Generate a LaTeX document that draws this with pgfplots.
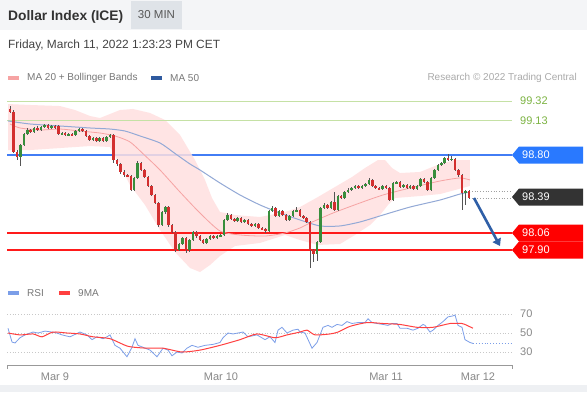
\documentclass[border=0pt]{standalone}
\usepackage{fontspec}
\setmainfont{Liberation Sans}
\usepackage{pgfplots}
\usepackage{pgfplotstable}
\pgfplotsset{compat=1.18}
\usetikzlibrary{arrows.meta}
\definecolor{hdrgray}{HTML}{F4F5F7}
\definecolor{minbox}{HTML}{DFE3E8}
\definecolor{titlecol}{HTML}{333333}
\definecolor{datecol}{HTML}{444444}
\definecolor{legtext}{HTML}{777777}
\definecolor{rescol}{HTML}{AAAAAA}
\definecolor{bandfill}{HTML}{FFE0E0}
\definecolor{ma20col}{HTML}{F6A3A3}
\definecolor{ma50col}{HTML}{93A9D6}
\definecolor{ma50leg}{HTML}{2F5A9F}
\definecolor{cred}{HTML}{D32F2F}
\definecolor{cgreen}{HTML}{388E3C}
\definecolor{wick}{HTML}{555555}
\definecolor{greenline}{HTML}{C5E1A5}
\definecolor{greenlabel}{HTML}{7CB342}
\definecolor{lvlblue}{RGB}{66,125,245}
\definecolor{bluebox}{HTML}{2979FF}
\definecolor{redline}{HTML}{FF1A1A}
\definecolor{redbox}{HTML}{FF0000}
\definecolor{darkbox}{HTML}{333333}
\definecolor{arrowcol}{HTML}{2F5FA7}
\definecolor{rsiblue}{HTML}{7B9EE8}
\definecolor{rsired}{HTML}{FF4040}
\definecolor{gridgray}{HTML}{C8C8C8}
\definecolor{axisgray}{HTML}{999999}
\definecolor{ticklab}{HTML}{888888}
\definecolor{botgray}{HTML}{EEF0F3}

\pgfplotstableread{
i o h l c
0 99.244 99.272 99.205 99.215
1 99.215 99.230 98.820 98.834
2 98.834 98.850 98.758 98.787
3 98.787 98.910 98.706 98.901
4 98.901 99.015 98.890 99.006
5 99.006 99.060 98.995 99.044
6 99.044 99.055 99.012 99.025
7 99.025 99.075 99.015 99.063
8 99.063 99.078 99.030 99.044
9 99.044 99.085 99.035 99.072
10 99.072 99.105 99.060 99.091
11 99.091 99.100 99.050 99.063
12 99.063 99.095 99.052 99.082
13 99.082 99.092 99.050 99.063
14 99.082 99.095 99.000 99.006
15 99.006 99.025 98.995 99.015
16 99.015 99.025 98.985 98.996
17 98.996 99.015 98.985 99.006
18 99.006 99.015 98.985 98.996
19 98.996 99.045 98.985 99.034
20 99.034 99.065 99.025 99.053
21 99.053 99.062 99.025 99.034
22 99.034 99.045 98.975 98.987
23 98.987 98.995 98.940 98.949
24 98.949 98.978 98.938 98.968
25 98.968 98.977 98.928 98.939
26 98.939 98.978 98.930 98.968
27 98.968 98.975 98.930 98.939
28 98.939 98.985 98.930 98.977
29 98.977 99.010 98.968 98.996
30 98.996 99.005 98.730 98.758
31 98.758 98.770 98.705 98.720
32 98.720 98.730 98.630 98.644
33 98.644 98.660 98.600 98.615
34 98.615 98.630 98.595 98.606
35 98.606 98.615 98.460 98.472
36 98.472 98.600 98.460 98.587
37 98.587 98.745 98.575 98.730
38 98.730 98.740 98.650 98.663
39 98.663 98.675 98.585 98.596
40 98.596 98.605 98.500 98.511
41 98.511 98.522 98.412 98.425
42 98.425 98.437 98.335 98.349
43 98.349 98.360 98.125 98.139
44 98.139 98.275 98.125 98.263
45 98.263 98.325 98.250 98.310
46 98.310 98.320 98.125 98.139
47 98.139 98.150 98.060 98.072
48 98.072 98.085 97.885 97.901
49 97.901 97.972 97.890 97.958
50 97.958 98.030 97.945 98.015
51 98.015 98.025 97.870 97.901
52 97.901 98.010 97.885 97.996
53 97.996 98.085 97.985 98.072
54 98.072 98.085 98.020 98.034
55 98.034 98.045 97.985 97.996
56 97.996 98.005 97.955 97.968
57 97.968 98.018 97.958 98.006
58 98.006 98.045 97.995 98.034
59 98.034 98.045 98.005 98.015
60 98.015 98.045 98.005 98.034
61 98.034 98.055 98.025 98.044
62 98.044 98.200 98.035 98.187
63 98.187 98.250 98.178 98.234
64 98.234 98.245 98.185 98.196
65 98.196 98.205 98.165 98.177
66 98.177 98.218 98.168 98.206
67 98.206 98.215 98.158 98.168
68 98.168 98.198 98.158 98.187
69 98.187 98.195 98.140 98.149
70 98.149 98.158 98.120 98.130
71 98.130 98.160 98.120 98.149
72 98.149 98.158 98.100 98.110
73 98.110 98.120 98.090 98.101
74 98.101 98.110 98.060 98.082
75 98.082 98.285 98.070 98.272
76 98.272 98.320 98.262 98.301
77 98.301 98.310 98.212 98.225
78 98.225 98.285 98.215 98.272
79 98.272 98.280 98.225 98.234
80 98.234 98.245 98.175 98.187
81 98.187 98.235 98.178 98.225
82 98.225 98.285 98.215 98.272
83 98.272 98.310 98.262 98.282
84 98.282 98.292 98.215 98.225
85 98.225 98.235 98.195 98.206
86 98.206 98.215 98.158 98.168
87 98.168 98.178 97.730 97.901
88 97.901 97.915 97.787 97.863
89 97.863 97.990 97.800 97.977
90 97.977 98.315 97.965 98.301
91 98.301 98.345 98.290 98.330
92 98.330 98.340 98.290 98.301
93 98.301 98.372 98.290 98.358
94 98.358 98.450 98.270 98.282
95 98.282 98.430 98.270 98.415
96 98.415 98.425 98.385 98.396
97 98.396 98.465 98.385 98.453
98 98.453 98.490 98.440 98.472
99 98.472 98.503 98.460 98.491
100 98.491 98.520 98.480 98.511
101 98.511 98.520 98.480 98.491
102 98.491 98.522 98.480 98.511
103 98.511 98.542 98.500 98.530
104 98.530 98.585 98.520 98.568
105 98.568 98.578 98.500 98.511
106 98.511 98.520 98.480 98.491
107 98.491 98.500 98.470 98.482
108 98.482 98.522 98.472 98.511
109 98.511 98.520 98.480 98.491
110 98.491 98.500 98.365 98.377
111 98.377 98.552 98.365 98.539
112 98.539 98.560 98.530 98.549
113 98.549 98.558 98.490 98.501
114 98.501 98.532 98.490 98.520
115 98.520 98.530 98.480 98.491
116 98.491 98.522 98.480 98.511
117 98.511 98.520 98.470 98.482
118 98.482 98.522 98.472 98.511
119 98.511 98.590 98.500 98.577
120 98.577 98.590 98.540 98.549
121 98.549 98.560 98.460 98.472
122 98.472 98.600 98.460 98.587
123 98.587 98.675 98.575 98.663
124 98.663 98.722 98.650 98.710
125 98.710 98.742 98.700 98.730
126 98.730 98.790 98.720 98.777
127 98.777 98.815 98.750 98.758
128 98.758 98.800 98.745 98.768
129 98.768 98.780 98.650 98.663
130 98.663 98.675 98.600 98.615
131 98.615 98.625 98.282 98.444
132 98.444 98.475 98.330 98.463
133 98.463 98.475 98.385 98.396
}\candles

\newcommand\pricebox[3]{%
  \fill[#3] (512,#1) -- (519,#1+8.5) -- (583,#1+8.5) -- (583,#1-8.5) -- (519,#1-8.5) -- cycle;
  \node[anchor=west, text=white, font=\fontsize{11}{13}\selectfont, inner sep=0pt] at (522,#1) {#2};}

\begin{document}
\begin{tikzpicture}[x=1pt,y=1pt]
\fill[white] (0,0) rectangle (587,392);
\fill[hdrgray] (0,362) rectangle (587,392);
\fill[minbox] (131,363) rectangle (182,391);
\fill[botgray] (0,0) rectangle (587,7);
\node[anchor=base west, inner sep=0pt, text=titlecol, font=\bfseries\fontsize{13.8}{16}\selectfont] at (8,371) {Dollar Index (ICE)};
\node[inner sep=0pt, text=datecol!90, font=\fontsize{11.5}{14}\selectfont] at (156.5,377) {30 MIN};
\node[anchor=base west, inner sep=0pt, text=datecol, font=\fontsize{11.9}{14}\selectfont] at (8,344) {Friday, March 11, 2022 1:23:23 PM CET};

% main legend
\fill[ma20col] (8,312) rectangle (19,316.5);
\node[anchor=west, inner sep=0pt, text=legtext, font=\fontsize{10}{12}\selectfont] at (27,314) {MA 20 + Bollinger Bands};
\fill[ma50leg] (151,312) rectangle (162,316.5);
\node[anchor=west, inner sep=0pt, text=legtext, font=\fontsize{10}{12}\selectfont] at (170,314) {MA 50};
\node[anchor=east, inner sep=0pt, text=rescol, font=\fontsize{10}{12}\selectfont] at (577,314) {Research © 2022 Trading Central};

% 98.80 resistance line (drawn first so the band and candles sit over it)
\fill[lvlblue] (7,236) rectangle (512,238);

\begin{axis}[at={(0,0)}, anchor=south west, width=587pt, height=392pt, scale only axis, hide axis,
  xmin=-2.899, xmax=167.246, ymin=96.5486, ymax=100.2819, clip=false]
% Bollinger band
\addplot[fill=bandfill, draw=none, fill opacity=0.85, forget plot] coordinates {
(-0.58,99.291) (5.8,99.282) (14.49,99.272) (18.84,99.234) (23.19,99.177) (26.09,99.158) (28.99,99.196) (31.88,99.234) (35.65,99.244) (40.58,99.206) (44.93,99.139) (49.28,98.996) (53.62,98.758) (56.52,98.568) (58.55,98.396) (60.87,98.263) (65.22,98.234) (72.46,98.215) (79.71,98.263) (84.06,98.310) (89.28,98.406) (94.2,98.501) (99.13,98.596) (102.9,98.682) (106.67,98.758) (108.7,98.758) (110.72,98.682) (113.04,98.634) (118.84,98.644) (124.64,98.720) (128.99,98.758) (133.33,98.758)
(133.33,98.511) (128.99,98.472) (124.64,98.434) (118.84,98.415) (111.59,98.396) (109.57,98.330) (107.25,98.234) (104.35,98.139) (100,98.044) (95.65,97.958) (89.28,97.949) (84.06,97.996) (79.71,98.044) (72.46,97.968) (65.22,97.939) (60.87,97.844) (57.97,97.758) (55.07,97.691) (52.17,97.730) (47.83,97.882) (43.48,98.092) (39.13,98.330) (34.78,98.520) (31.88,98.710) (28.99,98.882) (23.19,98.891) (14.49,98.872) (5.8,98.853) (-0.58,98.853)
};
% level lines
\addplot[color=greenline, line width=0.9pt, forget plot] coordinates {(-0.87,99.32) (145.51,99.32)};
\addplot[color=greenline, line width=0.9pt, forget plot] coordinates {(-0.87,99.13) (145.51,99.13)};
\addplot[color=redline, line width=1.8pt, forget plot] coordinates {(-0.87,98.06) (145.51,98.06)};
\addplot[color=redline, line width=1.8pt, forget plot] coordinates {(-0.87,97.90) (145.51,97.90)};
% MA 20
\addplot[ma20col, line width=0.8pt, smooth, tension=0.4, forget plot] coordinates {
(0,99.101) (2.9,99.063) (8.7,99.044) (14.49,99.053) (20.29,99.034) (26.09,99.015) (30.43,98.987) (34.78,98.930) (39.13,98.800) (43.48,98.663) (49.28,98.453) (55.07,98.253) (60.87,98.082) (66.67,98.044) (73.91,98.034) (79.71,98.063) (84.06,98.111) (86.96,98.158) (93.62,98.253) (101.45,98.349) (108.12,98.425) (115.94,98.491) (124.64,98.558) (130.43,98.587) (133.33,98.568)
};
% MA 50
\addplot[ma50col, line width=1pt, smooth, tension=0.4, forget plot] coordinates {
(-0.58,99.130) (5.8,99.101) (14.49,99.082) (23.19,99.063) (28.99,99.053) (33.33,99.034) (37.68,98.987) (43.48,98.920) (47.83,98.820) (52.17,98.720) (55.07,98.663) (60.87,98.539) (66.67,98.425) (72.46,98.330) (78.26,98.253) (84.06,98.187) (89.86,98.130) (95.65,98.130) (101.45,98.168) (108.12,98.234) (115.94,98.310) (124.64,98.377) (130.43,98.434) (133.33,98.453)
};
% wicks
\addplot[draw=none, mark=none, forget plot,
  error bars/.cd, y dir=both, y explicit, error mark=none,
  error bar style={draw=wick, line width=0.5pt}]
  table[x=i, y expr=(\thisrow{h}+\thisrow{l})/2, y error expr=(\thisrow{h}-\thisrow{l})/2] {\candles};
% green bodies
\addplot[draw=none, mark=none, forget plot,
  restrict expr to domain={\thisrow{c}-\thisrow{o}}{0:10},
  error bars/.cd, y dir=both, y explicit, error mark=none,
  error bar style={draw=cgreen, line width=2.5pt}]
  table[x=i, y expr=(\thisrow{o}+\thisrow{c})/2, y error expr=abs(\thisrow{c}-\thisrow{o})/2] {\candles};
% red bodies
\addplot[draw=none, mark=none, forget plot,
  restrict expr to domain={\thisrow{o}-\thisrow{c}}{0.0001:10},
  error bars/.cd, y dir=both, y explicit, error mark=none,
  error bar style={draw=cred, line width=2.5pt}]
  table[x=i, y expr=(\thisrow{o}+\thisrow{c})/2, y error expr=abs(\thisrow{c}-\thisrow{o})/2] {\candles};
\end{axis}

% RSI panel
\begin{axis}[at={(0,0)}, anchor=south west, width=587pt, height=392pt, scale only axis, hide axis,
  xmin=-2.899, xmax=167.246, ymin=-12.105, ymax=400.526, clip=false]
\addplot[color=gridgray, dotted, line width=0.8pt, forget plot] coordinates {(-0.87,70) (145.51,70)};
\addplot[color=gridgray, dotted, line width=0.8pt, forget plot] coordinates {(-0.87,50) (145.51,50)};
\addplot[color=gridgray, dotted, line width=0.8pt, forget plot] coordinates {(-0.87,30) (145.51,30)};
\addplot[rsiblue, line width=0.8pt, forget plot] coordinates {
(-0.58,55) (0.58,40.5) (1.45,39.5) (2.9,45) (4.35,48) (6.67,51) (8.12,50) (10.14,52) (12.17,51) (13.62,50) (15.07,48) (17.39,46) (20.29,51) (22.32,48) (23.77,43) (25.22,46) (26.96,44) (28.12,46) (28.99,48) (30.43,37) (31.88,34) (33.91,25) (35.36,35) (36.23,44) (37.1,37) (38.55,35) (40.58,32) (42.61,25) (44.35,34) (45.8,32) (46.96,26) (48.41,30) (49.86,29) (51.3,34) (52.75,37) (54.49,35) (56.52,37) (58.84,38) (60.87,40) (61.74,45) (63.19,50) (64.64,49) (66.09,50) (67.54,51) (68.99,46) (71.59,48) (73.91,43) (75.36,46) (76.81,40) (77.68,53) (78.84,56) (80.29,50) (82.03,53) (83.48,54) (84.06,51) (85.51,50) (87.54,34) (88.99,40) (89.86,48) (90.72,56) (92.17,58) (93.33,56) (94.78,59) (96.23,58) (97.68,62) (99.13,60) (100.87,61) (102.9,61) (103.77,65) (104.93,61) (106.38,60) (108.12,59) (109.57,58) (110.72,60) (112.17,60) (113.04,55) (115.07,55) (116.81,53) (118.26,55) (119.71,59) (120.29,58) (121.74,51) (122.61,53) (124.06,58) (125.51,62) (126.96,67) (128.41,68) (128.99,69) (129.86,58) (131.01,56) (131.88,43) (133.33,40) (134.2,39)
};
\addplot[rsiblue, dotted, line width=0.9pt, forget plot] coordinates {(134.2,39) (145.51,39)};
\addplot[rsired, line width=1pt, smooth, tension=0.4, forget plot] coordinates {
(-0.58,50) (2.9,48) (6.67,49) (9.28,46) (12.46,51) (16.52,50) (20.29,49) (24.06,46) (28.99,44) (34.2,36) (39.71,34) (44.35,34) (49.86,30) (55.07,32) (60.87,37) (66.67,43) (71.59,49) (76.81,45) (80.29,48) (84.06,51) (86.09,53) (88.41,48) (92.75,49) (95.07,51) (98.55,57) (103.48,61) (108.12,60) (113.04,59) (117.97,56) (122.61,56) (127.54,60) (131.01,60) (132.46,58) (134.2,55)
};
\end{axis}

% level labels
\node[anchor=west, inner sep=0pt, text=greenlabel, font=\fontsize{11}{13}\selectfont] at (520,291) {99.32};
\node[anchor=west, inner sep=0pt, text=greenlabel, font=\fontsize{11}{13}\selectfont] at (520,271) {99.13};
\pricebox{237}{98.80}{bluebox}
\draw[gridgray!80!black, dotted, line width=0.7pt] (472,201) -- (512,201);
\draw[gridgray!80!black, dotted, line width=0.7pt] (472,194) -- (512,194);
\pricebox{195}{98.39}{darkbox}
\pricebox{159}{98.06}{redbox}
\pricebox{142}{97.90}{redbox}
\draw[arrowcol, line width=2.6pt, -{Triangle[length=7pt,width=9pt]}] (474,194) -- (500,146);

% RSI legend
\fill[rsiblue] (8,97) rectangle (19,101.5);
\node[anchor=west, inner sep=0pt, text=legtext, font=\fontsize{10}{12}\selectfont] at (27,99) {RSI};
\fill[rsired] (59,97) rectangle (70,101.5);
\node[anchor=west, inner sep=0pt, text=legtext, font=\fontsize{10}{12}\selectfont] at (78,99) {9MA};
\foreach \v/\yy in {70/78,50/59,30/40}
  \node[anchor=west, inner sep=0pt, text=ticklab, font=\fontsize{11}{13}\selectfont] at (520,\yy) {\v};
% time axis
\draw[axisgray, line width=0.8pt] (7,23) -- (7,27) -- (512,27) -- (512,23);
\foreach \xx/\t in {55/Mar 9,221/Mar 10,386/Mar 11,478/Mar 12}
  \node[inner sep=0pt, text=ticklab, font=\fontsize{11}{13}\selectfont] at (\xx,15) {\t};
\end{tikzpicture}
\end{document}
